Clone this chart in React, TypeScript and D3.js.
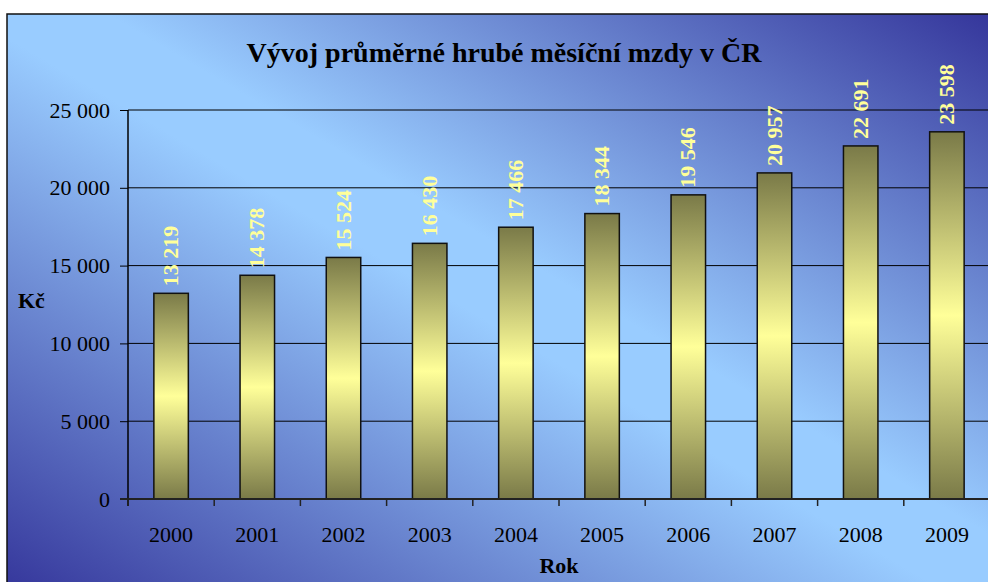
import React, { useEffect, useRef } from 'react'
import * as d3 from 'd3'

const years = ['2000', '2001', '2002', '2003', '2004', '2005', '2006', '2007', '2008', '2009']
const wages = [13219, 14378, 15524, 16430, 17466, 18344, 19546, 20957, 22691, 23598]
const yTicks = [0, 5000, 10000, 15000, 20000, 25000]

const W = 988
const H = 582
const margin = { top: 110, right: -2, bottom: 83, left: 128 }
const serif = '"Liberation Serif", "Times New Roman", serif'

const fmt = (v: number) => d3.format(',')(v).replace(/,/g, ' ')

const App = () => {
    const ref = useRef<SVGSVGElement>(null)

    useEffect(() => {
        const svg = d3.select(ref.current)
        svg.selectAll('*').remove()

        const defs = svg.append('defs')
        const bg = defs.append('linearGradient').attr('id', 'bg')
            .attr('x1', 0).attr('y1', 1).attr('x2', 1).attr('y2', 0)
        bg.append('stop').attr('offset', '0%').attr('stop-color', '#333399')
        bg.append('stop').attr('offset', '48%').attr('stop-color', '#99ccff')
        bg.append('stop').attr('offset', '55%').attr('stop-color', '#99ccff')
        bg.append('stop').attr('offset', '100%').attr('stop-color', '#333399')

        const bar = defs.append('linearGradient').attr('id', 'bar')
            .attr('x1', 0).attr('y1', 0).attr('x2', 0).attr('y2', 1)
        bar.append('stop').attr('offset', '0%').attr('stop-color', '#7a7a48')
        bar.append('stop').attr('offset', '50%').attr('stop-color', '#ffff99')
        bar.append('stop').attr('offset', '100%').attr('stop-color', '#7a7a48')

        // chart frame
        svg.append('rect')
            .attr('x', 7).attr('y', 14).attr('width', 1000).attr('height', 590)
            .attr('fill', 'url(#bg)').attr('stroke', '#111').attr('stroke-width', 1.5)

        const x0 = margin.left
        const x1 = W - margin.right
        const y0 = H - margin.bottom

        const x = d3.scaleBand().domain(years).range([x0, x1]).paddingInner(0.6).paddingOuter(0.3)
        const y = d3.scaleLinear().domain([0, 25000]).range([y0, margin.top])

        // gridlines
        svg.append('g').selectAll('line').data(yTicks.slice(1)).enter().append('line')
            .attr('x1', x0).attr('x2', x1)
            .attr('y1', d => y(d)).attr('y2', d => y(d))
            .attr('stroke', '#000').attr('stroke-width', 1)

        // y axis
        const yAxis = svg.append('g').attr('transform', `translate(${x0},0)`)
            .call(d3.axisLeft(y).tickValues(yTicks).tickFormat(d => fmt(+d)).tickSize(8).tickPadding(10).tickSizeOuter(0))
        yAxis.select('.domain').remove()
        yAxis.selectAll('line').attr('stroke', '#000')
        yAxis.selectAll('text').attr('font-family', serif).attr('font-size', 22).attr('fill', '#000')

        // bars
        svg.append('g').selectAll('rect').data(wages).enter().append('rect')
            .attr('x', (_, i) => x(years[i]) || 0)
            .attr('y', d => y(d))
            .attr('width', x.bandwidth())
            .attr('height', d => y0 - y(d))
            .attr('fill', 'url(#bar)')
            .attr('stroke', '#111').attr('stroke-width', 1.5)

        // value labels
        svg.append('g').selectAll('text').data(wages).enter().append('text')
            .attr('transform', (d, i) => `translate(${(x(years[i]) || 0) + x.bandwidth() / 2 + 7},${y(d) - 7}) rotate(-90)`)
            .attr('font-family', serif).attr('font-size', 22).attr('font-weight', 'bold')
            .attr('fill', '#ffff99')
            .text(d => fmt(d))

        // axes lines
        svg.append('line').attr('x1', x0).attr('x2', x0).attr('y1', margin.top).attr('y2', y0 + 7)
            .attr('stroke', '#000').attr('stroke-width', 1.5)
        svg.append('line').attr('x1', x0 - 8).attr('x2', x1).attr('y1', y0).attr('y2', y0)
            .attr('stroke', '#222').attr('stroke-width', 2)

        // x ticks at band boundaries
        const step = x.step()
        svg.append('g').selectAll('line').data(d3.range(years.length + 1)).enter().append('line')
            .attr('x1', i => x0 + i * step).attr('x2', i => x0 + i * step)
            .attr('y1', y0).attr('y2', y0 + 7)
            .attr('stroke', '#222').attr('stroke-width', 1.5)

        svg.append('g').selectAll('text').data(years).enter().append('text')
            .attr('x', d => (x(d) || 0) + x.bandwidth() / 2)
            .attr('y', 542)
            .attr('text-anchor', 'middle')
            .attr('font-family', serif).attr('font-size', 22)
            .text(d => d)

        // titles
        svg.append('text').attr('x', 504).attr('y', 62).attr('text-anchor', 'middle')
            .attr('font-family', serif).attr('font-size', 28).attr('font-weight', 'bold')
            .text('Vývoj průměrné hrubé měsíční mzdy v ČR')
        svg.append('text').attr('x', (x0 + x1) / 2).attr('y', 573).attr('text-anchor', 'middle')
            .attr('font-family', serif).attr('font-size', 22).attr('font-weight', 'bold')
            .text('Rok')
        svg.append('text').attr('x', 18).attr('y', 308)
            .attr('font-family', serif).attr('font-size', 22).attr('font-weight', 'bold')
            .text('Kč')
    }, [])

    return (
        <svg ref={ref} width={W} height={H}
            style={{ position: 'absolute', left: 0, top: 0, display: 'block', background: '#fff' }} />
    )
}

export default App
